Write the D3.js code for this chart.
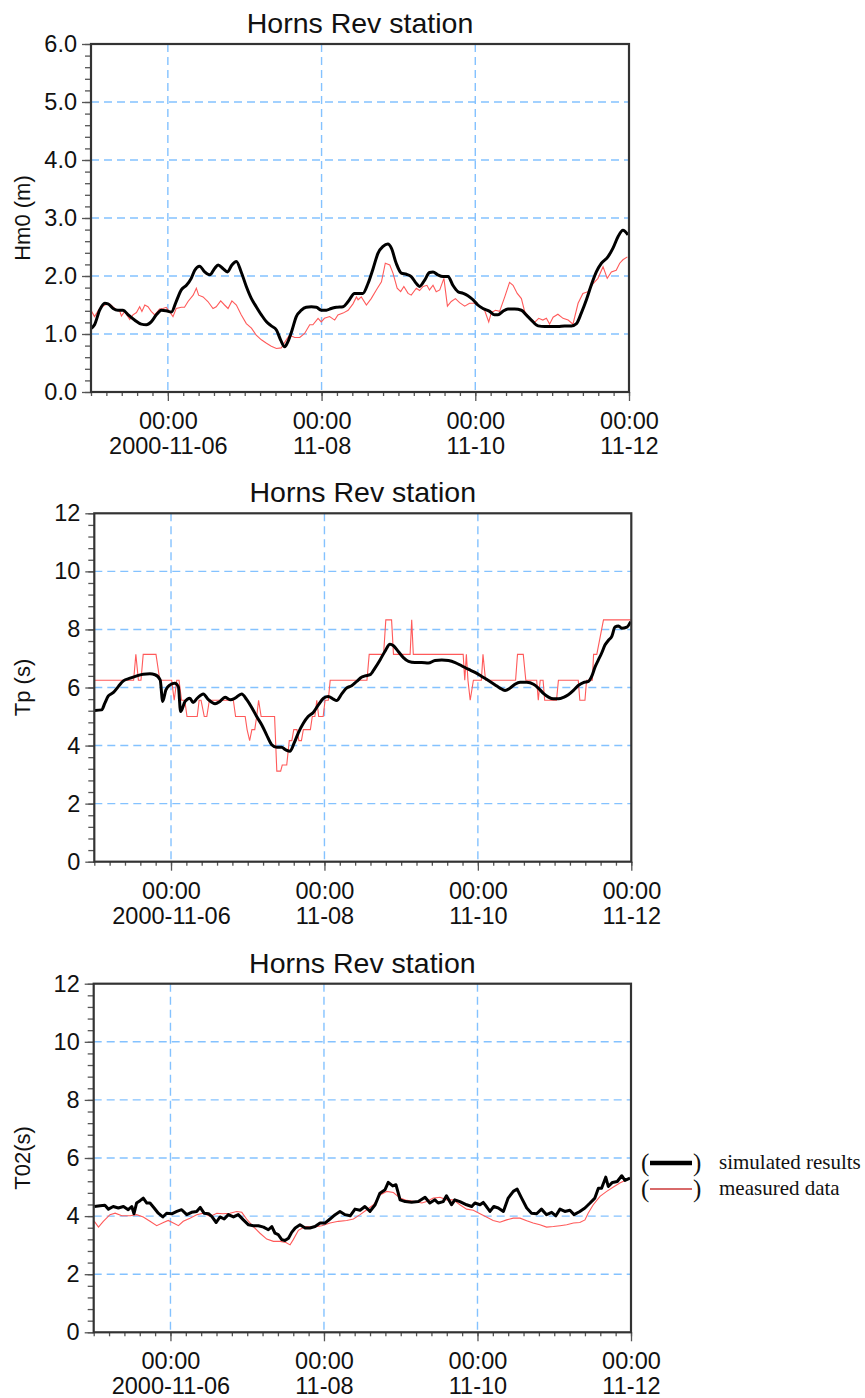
<!DOCTYPE html>

<head>
  <meta charset="utf-8">
  <script src="https://d3js.org/d3.v7.min.js"></script>
  <style>
    body {
      margin: 0;
      background: #fff;
    }

    text {
      font-family: Arial, "Liberation Sans", sans-serif;
      fill: #111;
    }

    .grid line {
      stroke: #84c2ff;
      stroke-dasharray: 8, 5;
      stroke-width: 1.4px;
    }

    .axis .tick line {
      stroke: #555;
      stroke-width: 1.3px;
    }

    .axis .domain {
      display: none;
    }

    .frame {
      fill: none;
      stroke: #333;
      stroke-width: 2.2px;
    }

    .sim {
      fill: none;
      stroke: #000;
      stroke-width: 3px;
      stroke-linejoin: round;
    }

    .meas {
      fill: none;
      stroke: #ff5a5a;
      stroke-width: 1.1px;
    }

    .legend text {
      font-family: "Liberation Serif", "Times New Roman", serif;
    }
  </style>
</head>

<body>
  <svg width="865" height="1398"></svg>
  <script>
    // hours counted from 2000-11-05 00:00
    var startTime = Date.UTC(2000, 10, 5);
    var xMajorHours = [24, 72, 120, 168];
    var xTickTop = ["00:00", "00:00", "00:00", "00:00"];
    var xTickBottom = ["2000-11-06", "11-08", "11-10", "11-12"];
    var seriesNames = ["simulated results", "measured data"];

    var hm0Sim = [[0.1,1.10],[1.1,1.16],[2.7,1.41],[4.3,1.53],[5.3,1.52],[6.9,1.44],[8.4,1.41],[10.0,1.41],[11.6,1.33],[13.6,1.24],[15.7,1.17],[17.3,1.16],[18.8,1.21],[20.4,1.33],[22.0,1.41],[23.5,1.40],[25.1,1.38],[26.6,1.56],[28.2,1.76],[29.8,1.84],[31.3,1.96],[32.4,2.10],[33.9,2.17],[35.5,2.07],[37.1,2.02],[38.6,2.13],[39.7,2.19],[41.2,2.13],[42.6,2.07],[44.0,2.19],[45.4,2.25],[46.9,2.07],[48.5,1.82],[50.1,1.61],[51.6,1.47],[53.2,1.33],[54.8,1.21],[56.3,1.14],[57.9,1.07],[59.2,0.90],[60.5,0.78],[61.5,0.87],[62.8,1.07],[64.1,1.30],[65.7,1.41],[67.2,1.46],[68.8,1.47],[70.4,1.46],[71.9,1.41],[73.5,1.41],[75.0,1.44],[76.6,1.46],[78.7,1.47],[80.3,1.56],[82.3,1.70],[84.9,1.70],[86.5,1.87],[88.1,2.13],[89.6,2.39],[91.2,2.51],[92.7,2.55],[93.8,2.48],[95.3,2.22],[96.9,2.05],[98.5,2.03],[100.0,1.99],[101.6,1.87],[102.6,1.82],[104.2,1.93],[105.7,2.06],[106.8,2.07],[108.3,2.02],[109.9,1.99],[111.5,1.99],[113.0,1.84],[114.6,1.73],[116.2,1.70],[117.7,1.66],[119.3,1.59],[120.8,1.50],[122.4,1.44],[124.5,1.39],[126.0,1.33],[127.1,1.33],[128.6,1.39],[130.2,1.43],[132.3,1.43],[134.4,1.41],[135.9,1.33],[137.5,1.24],[139.6,1.14],[141.7,1.13],[143.7,1.13],[145.8,1.13],[147.9,1.14],[150.0,1.14],[151.6,1.18],[153.1,1.36],[154.7,1.59],[156.2,1.84],[157.8,2.07],[159.4,2.22],[161.4,2.33],[163.0,2.48],[164.6,2.68],[166.1,2.79],[167.7,2.71]];

    var hm0Meas = [[0,1.41],[1.1,1.30],[2.7,1.44],[4.3,1.50],[5.8,1.52],[7.4,1.44],[9.0,1.39],[9.5,1.31],[10.5,1.39],[12.1,1.25],[13.1,1.33],[14.2,1.37],[15.2,1.47],[15.9,1.39],[16.8,1.50],[17.8,1.47],[18.8,1.39],[19.9,1.33],[21.4,1.43],[22.5,1.44],[23.5,1.46],[24.6,1.38],[25.6,1.30],[26.6,1.44],[28.2,1.46],[29.2,1.46],[30.3,1.56],[31.9,1.67],[32.9,1.79],[33.6,1.67],[35.0,1.64],[36.5,1.56],[38.1,1.44],[39.1,1.47],[40.5,1.57],[41.7,1.50],[42.8,1.44],[44.0,1.57],[45.4,1.50],[46.9,1.33],[48.5,1.18],[50.1,1.10],[51.6,0.98],[53.2,0.90],[54.8,0.84],[56.3,0.79],[57.9,0.75],[59.4,0.76],[61.0,0.90],[62.0,0.98],[63.6,0.94],[65.2,0.94],[66.7,1.01],[68.3,1.16],[69.3,1.16],[70.9,1.27],[71.9,1.21],[72.9,1.27],[74.5,1.30],[76.1,1.24],[77.1,1.33],[78.7,1.36],[80.3,1.41],[81.8,1.52],[82.9,1.64],[83.4,1.59],[84.4,1.64],[86.0,1.50],[87.5,1.61],[89.1,1.76],[90.7,1.90],[91.9,2.22],[93.3,2.19],[94.3,2.05],[95.6,1.79],[96.7,1.73],[97.7,1.82],[99.0,1.70],[100.0,1.67],[101.6,1.79],[102.6,1.75],[103.7,1.82],[104.9,1.84],[105.7,1.76],[106.8,1.84],[107.8,1.73],[108.9,1.76],[110.2,1.96],[111.3,1.48],[112.5,1.56],[113.8,1.61],[115.1,1.54],[116.7,1.48],[118.2,1.53],[119.8,1.53],[121.4,1.47],[122.9,1.41],[124.2,1.21],[125.0,1.37],[126.3,1.41],[127.6,1.39],[129.2,1.64],[130.7,1.89],[131.8,1.84],[133.1,1.70],[134.4,1.61],[135.4,1.39],[137.0,1.27],[138.5,1.20],[139.8,1.27],[141.1,1.24],[142.2,1.27],[143.2,1.17],[144.3,1.29],[145.8,1.34],[147.4,1.27],[149.0,1.24],[150.5,1.17],[152.1,1.53],[153.6,1.70],[155.2,1.73],[156.8,1.87],[158.3,1.96],[159.9,2.16],[161.2,1.96],[162.5,2.07],[164.0,2.10],[165.1,2.22],[166.1,2.28],[167.5,2.33]];

    var tpSim = [[0.2,5.21],[2.3,5.23],[3.3,5.46],[4.4,5.71],[6.0,5.83],[7.5,6.03],[9.1,6.23],[11.2,6.32],[13.3,6.40],[15.3,6.46],[17.4,6.47],[19.0,6.44],[20.6,6.26],[21.4,5.52],[22.4,5.92],[23.7,6.09],[25.2,6.15],[26.3,6.03],[27.0,5.17],[28.4,5.52],[29.9,5.63],[30.9,5.48],[32.2,5.63],[34.1,5.78],[35.7,5.58],[37.8,5.44],[39.3,5.52],[40.9,5.66],[42.5,5.58],[44.0,5.63],[46.1,5.78],[47.7,5.58],[49.2,5.32],[50.8,5.00],[52.4,4.71],[53.9,4.37],[55.5,4.03],[57.1,3.94],[58.6,3.94],[59.9,3.85],[61.2,3.80],[62.5,4.08],[63.8,4.43],[65.4,4.77],[66.9,5.00],[68.5,5.14],[70.1,5.40],[71.7,5.63],[73.2,5.69],[74.8,5.60],[75.8,5.55],[77.4,5.78],[78.9,5.98],[80.5,6.06],[82.1,6.21],[83.7,6.36],[84.7,6.40],[86.3,6.44],[87.8,6.67],[89.4,6.95],[90.9,7.24],[92.5,7.49],[93.6,7.44],[95.1,7.24],[96.7,7.03],[98.3,6.90],[100.3,6.86],[102.4,6.86],[104.5,6.84],[106.6,6.93],[108.7,6.95],[110.8,6.93],[112.9,6.86],[114.9,6.75],[117.0,6.63],[119.1,6.52],[121.2,6.38],[123.3,6.24],[125.4,6.09],[126.9,5.98],[128.5,5.90],[130.1,5.98],[131.6,6.11],[133.2,6.18],[135.3,6.18],[137.4,6.11],[138.9,5.98],[140.5,5.80],[142.1,5.67],[143.6,5.61],[145.2,5.61],[146.8,5.66],[148.3,5.75],[149.9,5.90],[151.4,6.07],[153.0,6.17],[154.6,6.21],[155.6,6.38],[156.7,6.72],[157.7,6.95],[158.7,7.18],[159.8,7.47],[160.8,7.62],[161.9,7.76],[162.9,8.08],[164.0,8.12],[165.0,8.04],[166.6,8.08],[167.8,8.27]];

    var tpMeas = [[0,6.25],[12.3,6.25],[13.0,7.14],[13.8,6.25],[14.6,6.25],[15.3,7.14],[19.3,7.14],[20.5,6.25],[24.2,6.25],[25.0,5.56],[25.8,6.25],[26.5,6.25],[27.3,5.56],[28.3,5.56],[29.0,5.0],[32.2,5.0],[32.8,5.56],[33.4,5.56],[34.4,5.0],[35.2,5.0],[36.0,5.56],[43.5,5.56],[44.2,5.0],[47.2,5.0],[47.8,4.55],[48.6,4.17],[49.3,4.55],[50.2,4.55],[50.8,5.0],[51.4,5.56],[52.2,5.0],[56.4,5.0],[57.1,3.12],[58.3,3.12],[58.8,3.33],[60.2,3.33],[61.0,4.17],[61.8,4.17],[62.4,4.55],[63.4,4.55],[64.0,4.17],[64.8,4.17],[65.4,4.55],[67.6,4.55],[68.2,5.0],[69.0,5.0],[69.6,5.56],[70.2,5.0],[71.6,5.0],[72.2,5.56],[73.2,5.56],[73.8,6.25],[85.3,6.25],[86.0,7.14],[90.5,7.14],[91.2,8.33],[93.0,8.33],[93.6,7.14],[98.8,7.14],[99.3,8.33],[99.8,7.14],[115.4,7.14],[115.9,6.25],[116.4,7.14],[116.9,6.25],[117.6,5.56],[118.6,6.25],[121.1,6.25],[121.6,7.14],[122.4,6.25],[131.8,6.25],[132.4,7.14],[134.2,7.14],[135.0,6.25],[138.4,6.25],[138.9,5.56],[139.5,6.25],[140.4,6.25],[140.9,5.56],[144.6,5.56],[145.2,6.25],[151.4,6.25],[151.9,5.56],[153.5,5.56],[154.0,6.25],[155.8,6.25],[156.2,7.14],[157.2,7.14],[159.3,8.33],[168,8.33]];

    var t02Sim = [[0.2,4.33],[2.0,4.36],[3.5,4.37],[4.6,4.24],[6.1,4.33],[7.7,4.28],[9.3,4.33],[10.8,4.22],[11.9,4.33],[12.6,4.08],[13.4,4.45],[14.5,4.53],[15.5,4.62],[16.6,4.45],[17.6,4.45],[18.9,4.28],[20.2,4.10],[21.6,3.97],[22.8,4.10],[24.4,4.08],[26.0,4.16],[27.5,4.22],[29.1,4.05],[30.6,4.13],[32.2,4.16],[33.3,4.30],[34.5,4.10],[35.9,4.08],[36.9,3.99],[38.3,3.78],[39.5,3.97],[40.8,3.90],[42.1,4.05],[43.7,3.97],[45.2,4.05],[46.8,3.87],[48.4,3.70],[49.9,3.67],[51.5,3.67],[53.1,3.62],[54.6,3.53],[55.7,3.64],[56.7,3.41],[57.7,3.36],[58.8,3.19],[59.8,3.16],[60.9,3.24],[61.9,3.44],[63.0,3.59],[64.5,3.70],[66.1,3.59],[67.6,3.59],[69.2,3.64],[70.8,3.76],[72.3,3.76],[73.9,3.90],[75.5,4.05],[77.0,4.16],[78.6,4.05],[80.2,4.01],[81.7,4.24],[83.3,4.20],[84.8,4.33],[86.4,4.16],[88.0,4.39],[89.5,4.79],[91.1,4.91],[92.1,5.16],[93.5,5.04],[94.5,5.08],[95.8,4.56],[97.4,4.50],[99.4,4.48],[101.5,4.50],[103.6,4.65],[105.1,4.45],[106.7,4.56],[107.7,4.45],[109.3,4.50],[110.3,4.70],[111.9,4.39],[112.9,4.56],[114.5,4.50],[116.6,4.39],[118.2,4.33],[119.2,4.45],[120.8,4.39],[121.8,4.47],[122.8,4.33],[123.9,4.16],[125.1,4.33],[126.5,4.28],[128.1,4.16],[129.6,4.62],[131.2,4.85],[132.4,4.93],[133.8,4.62],[135.4,4.28],[136.9,4.10],[138.5,4.08],[140.0,4.24],[141.6,4.05],[143.2,4.13],[144.5,4.01],[145.8,4.24],[147.3,4.16],[148.9,4.20],[150.2,4.05],[152.0,4.16],[153.6,4.28],[155.2,4.45],[156.7,4.62],[157.8,4.96],[158.8,4.96],[160.1,5.34],[160.9,5.02],[162.2,5.16],[163.7,5.19],[165.1,5.39],[166.1,5.23],[167.7,5.31]];

    var t02Meas = [[0.2,3.82],[1.5,3.62],[3.0,3.82],[5.1,4.05],[6.7,4.10],[8.8,4.01],[11.4,4.01],[13.4,4.05],[15.5,3.97],[17.6,3.82],[19.7,3.67],[21.8,3.78],[23.3,3.85],[24.9,3.76],[26.5,3.67],[28.0,3.82],[30.1,3.93],[32.2,4.05],[34.3,4.10],[36.4,3.99],[38.5,4.10],[40.5,4.08],[42.6,4.10],[44.7,4.16],[46.3,4.13],[47.8,3.90],[49.9,3.64],[52.0,3.41],[54.1,3.21],[56.2,3.13],[58.3,3.13],[60.1,3.09],[61.4,3.01],[62.4,3.19],[64.0,3.51],[66.1,3.64],[68.7,3.62],[71.3,3.67],[73.9,3.76],[76.5,3.82],[79.1,3.85],[81.2,3.90],[83.3,4.05],[85.4,4.22],[87.5,4.39],[89.5,4.73],[91.6,4.85],[93.7,4.81],[95.8,4.62],[97.9,4.54],[100.5,4.50],[102.6,4.45],[104.1,4.50],[106.2,4.62],[108.3,4.65],[110.3,4.56],[112.4,4.56],[114.5,4.39],[116.6,4.24],[118.7,4.20],[120.8,4.08],[122.8,3.97],[124.9,3.85],[127.0,3.79],[129.1,3.87],[131.2,3.93],[133.3,3.93],[135.4,3.84],[137.4,3.76],[139.5,3.70],[141.6,3.62],[143.7,3.64],[145.8,3.67],[147.9,3.70],[150.0,3.76],[152.0,3.78],[153.6,3.87],[154.6,4.10],[156.2,4.39],[158.3,4.68],[160.4,4.85],[162.5,5.00],[164.5,5.14],[166.6,5.25],[167.7,5.31]];

    var panels = [
      { title: "Horns Rev station", label: "Hm0 (m)", max: 6, major: 1, minor: 0.2, fmt: ".1f",
        sim: hm0Sim, meas: hm0Meas, smooth: true, left: 91, right: 629, top: 44, bottom: 392 },
      { title: "Horns Rev station", label: "Tp (s)", max: 12, major: 2, minor: 0.4, fmt: "d",
        sim: tpSim, meas: tpMeas, smooth: true, left: 94.3, right: 631.3, top: 513.3, bottom: 861.7 },
      { title: "Horns Rev station", label: "T02(s)", max: 12, major: 2, minor: 0.4, fmt: "d",
        sim: t02Sim, meas: t02Meas, smooth: false, left: 93.7, right: 631, top: 983.7, bottom: 1332.3 }
    ];

    function toDate(h) { return new Date(startTime + h * 3600 * 1000); }

    var svg = d3.select("svg");
    svg.append("rect").attr("width", 865).attr("height", 1398).attr("fill", "#fff");

    panels.forEach(function (p) {
      var x = d3.scaleUtc().domain([toDate(0), toDate(168)]).range([p.left, p.right]);
      var y = d3.scaleLinear().domain([0, p.max]).range([p.bottom, p.top]);
      var g = svg.append("g");

      var majorY = d3.range(0, p.max + 1e-6, p.major);
      var minorY = d3.range(0, p.max + 1e-6, p.minor);
      var minorX = d3.range(0, 168.01, 4.8).map(toDate);
      var majorX = xMajorHours.map(toDate);

      // grid
      var grid = g.append("g").attr("class", "grid");
      grid.selectAll(".h").data(majorY.filter(function (v) { return v > 0 && v < p.max; }))
        .enter().append("line")
        .attr("x1", p.left).attr("x2", p.right)
        .attr("y1", function (d) { return y(d); }).attr("y2", function (d) { return y(d); });
      grid.selectAll(".v").data(majorX.slice(0, 3))
        .enter().append("line")
        .attr("y1", p.top).attr("y2", p.bottom)
        .attr("x1", function (d) { return x(d); }).attr("x2", function (d) { return x(d); });

      // lines
      var line = d3.line()
        .x(function (d) { return x(toDate(d[0])); })
        .y(function (d) { return y(d[1]); });
      g.append("path").datum(p.meas).attr("class", "meas").attr("d", line);
      var simLine = d3.line()
        .curve(p.smooth ? d3.curveMonotoneX : d3.curveLinear)
        .x(function (d) { return x(toDate(d[0])); })
        .y(function (d) { return y(d[1]); });
      g.append("path").datum(p.sim).attr("class", "sim").attr("d", simLine);

      // axes
      g.append("g").attr("class", "axis")
        .attr("transform", "translate(" + p.left + ",0)")
        .call(d3.axisLeft(y).tickValues(minorY).tickSize(6).tickFormat(""));
      var yAx = g.append("g").attr("class", "axis")
        .attr("transform", "translate(" + p.left + ",0)")
        .call(d3.axisLeft(y).tickValues(majorY).tickSize(9).tickPadding(5).tickFormat(d3.format(p.fmt)));
      yAx.selectAll("text").attr("font-size", 23.5).attr("fill", "#111")
        .attr("font-family", "Arial, 'Liberation Sans', sans-serif");

      g.append("g").attr("class", "axis")
        .attr("transform", "translate(0," + p.bottom + ")")
        .call(d3.axisBottom(x).tickValues(minorX).tickSize(4).tickFormat(""));
      var xAx = g.append("g").attr("class", "axis")
        .attr("transform", "translate(0," + p.bottom + ")")
        .call(d3.axisBottom(x).tickValues(majorX).tickSize(9).tickFormat(""));
      xAx.selectAll(".tick").each(function (d, i) {
        var t = d3.select(this).append("text")
          .attr("text-anchor", "middle").attr("font-size", 23.5).attr("fill", "#111")
          .attr("font-family", "Arial, 'Liberation Sans', sans-serif");
        t.append("tspan").attr("x", 0).attr("y", 37).text(xTickTop[i]);
        t.append("tspan").attr("x", 0).attr("y", 62).text(xTickBottom[i]);
      });

      g.append("rect").attr("class", "frame")
        .attr("x", p.left).attr("y", p.top)
        .attr("width", p.right - p.left).attr("height", p.bottom - p.top);

      g.append("text")
        .attr("x", (p.left + p.right) / 2).attr("y", p.top - 11)
        .attr("text-anchor", "middle").attr("font-size", 28.5)
        .text(p.title);

      g.append("text")
        .attr("transform", "translate(30," + (p.top + p.bottom) / 2 + ") rotate(-90)")
        .attr("text-anchor", "middle").attr("font-size", 22)
        .text(p.label);
    });

    // legend beside the last panel
    var legend = svg.append("g").attr("class", "legend");
    var legendStyles = [{ stroke: "#000", width: 4.5 }, { stroke: "#d86a6a", width: 2 }];
    seriesNames.forEach(function (name, i) {
      var cy = 1163 + i * 26;
      var row = legend.append("g").attr("transform", "translate(0," + cy + ")");
      row.append("text").attr("x", 641).attr("y", 8).attr("font-size", 25).text("(");
      row.append("line").attr("x1", 650).attr("x2", 692).attr("y1", 0).attr("y2", 0)
        .attr("stroke", legendStyles[i].stroke).attr("stroke-width", legendStyles[i].width);
      row.append("text").attr("x", 693).attr("y", 8).attr("font-size", 25).text(")");
      row.append("text").attr("x", 719).attr("y", 6).attr("font-size", 21).text(name);
    });
  </script>
</body>
